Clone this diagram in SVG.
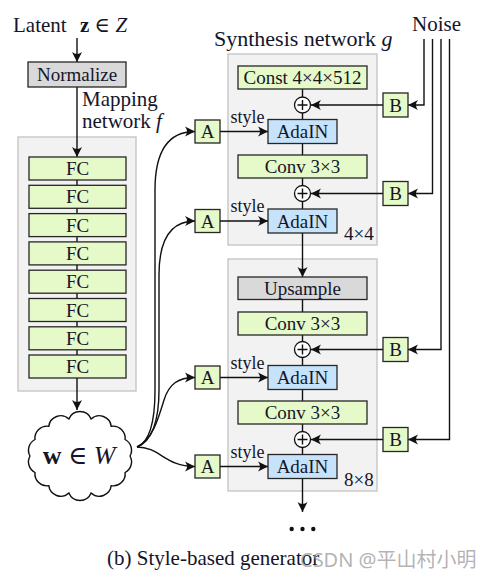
<svg xmlns="http://www.w3.org/2000/svg" width="492" height="579" viewBox="0 0 492 579" font-family="'Liberation Serif', 'DejaVu Serif', serif">
<style>
text{font-family:"Liberation Serif","DejaVu Serif",serif;fill:#15152a}
.big{font-size:21px}
.lbl{font-size:19px;text-anchor:middle}
.sty{font-size:18px}
.cont{fill:#f2f2f2;stroke:#c2c2c2;stroke-width:1.3}
.g{fill:#e6f9c8;stroke:#262626;stroke-width:1.3}
.b{fill:#c7e3fb;stroke:#262626;stroke-width:1.3}
.gr{fill:#d9d9d9;stroke:#262626;stroke-width:1.3}
.ln{fill:none;stroke:#111;stroke-width:1.4}
.arr{fill:none;stroke:#111;stroke-width:1.4;marker-end:url(#ah)}
.plus{fill:#fff;stroke:#111;stroke-width:1.3}
.wm{font-family:"Noto Sans","Noto Sans CJK SC",sans-serif;fill:#9a9a9a;fill-opacity:0.75;font-size:20px}
</style>
<defs>
<marker id="ah" viewBox="-11 -6 12 12" refX="0" refY="0" markerWidth="12" markerHeight="12" markerUnits="userSpaceOnUse" orient="auto">
<path d="M0,0 L-10,-5 Q-6,0 -10,5 Z" fill="#111"/>
</marker>
</defs>

<rect id="mapping-container" class="cont" x="18" y="137" width="118" height="254"/>
<rect id="synth-4x4" class="cont" x="228" y="54" width="149" height="191"/>
<rect id="synth-8x8" class="cont" x="228" y="259" width="149" height="232"/>

<g id="connectors">
<path class="arr" d="M77,38 L77,62"/>
<path class="arr" d="M77,87 L77,157"/>
<path class="ln" d="M77,179 L77,355"/>
<path class="arr" d="M77,378 L77,410"/>
<path class="ln" d="M302.5,89 L302.5,233"/>
<path class="arr" d="M302.5,233 L302.5,277"/>
<path class="ln" d="M302.5,299 L302.5,479"/>
<path class="arr" d="M302.5,479 L302.5,512"/>
<path class="arr" d="M383,105 L311,105"/>
<path class="arr" d="M383,193.5 L311,193.5"/>
<path class="arr" d="M383,349.5 L311,349.5"/>
<path class="arr" d="M383,439.5 L311,439.5"/>
<path class="arr" d="M424,39 L424,105 L408,105"/>
<path class="arr" d="M432.5,39 L432.5,193.5 L408,193.5"/>
<path class="arr" d="M441,39 L441,349.5 L408,349.5"/>
<path class="arr" d="M449.5,39 L449.5,439.5 L408,439.5"/>
<path class="arr" d="M220,131.5 L268,131.5"/>
<path class="arr" d="M220,221 L268,221"/>
<path class="arr" d="M220,377.5 L268,377.5"/>
<path class="arr" d="M220,466.5 L268,466.5"/>
<path class="arr" d="M137,447 C150,442 155,420 155,390 L155,190 Q155,131.5 195,131.5"/>
<path class="arr" d="M137,447 C152,442 159,420 159,390 L159,275 Q159,221 195,221"/>
<path class="arr" d="M137,447 C152,440 158,420 164,400 C169,384 178,377.5 195,377.5"/>
<path class="arr" d="M137,447 C160,447 165,466.5 195,466.5"/>
</g>

<text class="big" x="13" y="32">Latent</text>
<text class="big" x="80" y="32"><tspan font-weight="bold">z</tspan> ∈ <tspan font-style="italic">Z</tspan></text>

<g id="normalize"><rect class="gr" x="28" y="62" width="98" height="25"/><text class="lbl" x="77" y="81">Normalize</text></g>
<text class="big" x="82" y="106">Mapping</text>
<text class="big" x="82" y="128">network <tspan font-style="italic">f</tspan></text>

<g id="fc1"><rect class="g" x="29" y="157" width="97" height="23"/><text class="lbl" x="77.5" y="175">FC</text></g>
<g id="fc2"><rect class="g" x="29" y="185.3" width="97" height="23"/><text class="lbl" x="77.5" y="203.3">FC</text></g>
<g id="fc3"><rect class="g" x="29" y="213.6" width="97" height="23"/><text class="lbl" x="77.5" y="231.6">FC</text></g>
<g id="fc4"><rect class="g" x="29" y="241.9" width="97" height="23"/><text class="lbl" x="77.5" y="259.9">FC</text></g>
<g id="fc5"><rect class="g" x="29" y="270.2" width="97" height="23"/><text class="lbl" x="77.5" y="288.2">FC</text></g>
<g id="fc6"><rect class="g" x="29" y="298.5" width="97" height="23"/><text class="lbl" x="77.5" y="316.5">FC</text></g>
<g id="fc7"><rect class="g" x="29" y="326.8" width="97" height="23"/><text class="lbl" x="77.5" y="344.8">FC</text></g>
<g id="fc8"><rect class="g" x="29" y="355" width="97" height="23"/><text class="lbl" x="77.5" y="373">FC</text></g>

<g id="w-cloud">
<path fill="#fff" stroke="#111" stroke-width="1.4" d="M130,456 A12,12 0 0 1 125.1,472.5 A12,12 0 0 1 111.2,485.7 A12,12 0 0 1 91.1,493 A12,12 0 0 1 68.9,493 A12,12 0 0 1 48.8,485.7 A12,12 0 0 1 35,472.5 A12,12 0 0 1 30,456 A12,12 0 0 1 35,439.5 A12,12 0 0 1 48.8,426.3 A12,12 0 0 1 68.9,419 A12,12 0 0 1 91.1,419 A12,12 0 0 1 111.2,426.3 A12,12 0 0 1 125.1,439.5 A12,12 0 0 1 130,456 Z"/>
<text x="79" y="464" font-size="26" text-anchor="middle"><tspan font-weight="bold">w</tspan> ∈ <tspan font-style="italic">W</tspan></text>
</g>

<text x="214" y="46" font-size="22">Synthesis network <tspan font-style="italic">g</tspan></text>
<text class="big" x="412" y="31">Noise</text>

<g id="const"><rect class="g" x="238" y="66" width="129" height="23"/><text class="lbl" x="302.5" y="84">Const 4×4×512</text></g>
<g id="plus1"><circle class="plus" cx="302.5" cy="105" r="8"/><path class="ln" d="M297.5,105 H307.5 M302.5,100 V110" stroke-width="1.1"/></g>
<g id="adain1"><rect class="b" x="268" y="119.5" width="69" height="24"/><text class="lbl" x="302.5" y="138">AdaIN</text></g>
<g id="conv1"><rect class="g" x="238" y="155" width="129" height="23"/><text class="lbl" x="302.5" y="173">Conv 3×3</text></g>
<g id="plus2"><circle class="plus" cx="302.5" cy="193.5" r="8"/><path class="ln" d="M297.5,193.5 H307.5 M302.5,188.5 V198.5" stroke-width="1.1"/></g>
<g id="adain2"><rect class="b" x="268" y="209" width="69" height="24"/><text class="lbl" x="302.5" y="227.5">AdaIN</text></g>
<text x="344" y="240" font-size="19">4×4</text>

<g id="upsample"><rect class="gr" x="238" y="277" width="129" height="22.5"/><text class="lbl" x="302.5" y="295">Upsample</text></g>
<g id="conv2"><rect class="g" x="238" y="312" width="129" height="23"/><text class="lbl" x="302.5" y="330">Conv 3×3</text></g>
<g id="plus3"><circle class="plus" cx="302.5" cy="349.5" r="8"/><path class="ln" d="M297.5,349.5 H307.5 M302.5,344.5 V354.5" stroke-width="1.1"/></g>
<g id="adain3"><rect class="b" x="268" y="365.5" width="69" height="24"/><text class="lbl" x="302.5" y="384">AdaIN</text></g>
<g id="conv3"><rect class="g" x="238" y="401" width="129" height="23"/><text class="lbl" x="302.5" y="419">Conv 3×3</text></g>
<g id="plus4"><circle class="plus" cx="302.5" cy="439.5" r="8"/><path class="ln" d="M297.5,439.5 H307.5 M302.5,434.5 V444.5" stroke-width="1.1"/></g>
<g id="adain4"><rect class="b" x="268" y="454.5" width="69" height="24"/><text class="lbl" x="302.5" y="473">AdaIN</text></g>
<text x="344" y="486" font-size="19">8×8</text>

<g id="dots" fill="#111"><circle cx="291.7" cy="529" r="2.2"/><circle cx="302.5" cy="529" r="2.2"/><circle cx="313.3" cy="529" r="2.2"/></g>

<g id="A1"><rect class="g" x="195" y="120" width="25" height="23"/><text class="lbl" x="207.5" y="138">A</text></g>
<g id="A2"><rect class="g" x="195" y="209.5" width="25" height="23"/><text class="lbl" x="207.5" y="227.5">A</text></g>
<g id="A3"><rect class="g" x="195" y="366" width="25" height="23"/><text class="lbl" x="207.5" y="384">A</text></g>
<g id="A4"><rect class="g" x="195" y="455" width="25" height="23"/><text class="lbl" x="207.5" y="473">A</text></g>
<text class="sty" x="230.5" y="122.5">style</text>
<text class="sty" x="230.5" y="212">style</text>
<text class="sty" x="230.5" y="368.5">style</text>
<text class="sty" x="230.5" y="457.5">style</text>

<g id="B1"><rect class="g" x="383" y="93" width="25" height="24"/><text class="lbl" x="395.5" y="111.5">B</text></g>
<g id="B2"><rect class="g" x="383" y="181.5" width="25" height="24"/><text class="lbl" x="395.5" y="200">B</text></g>
<g id="B3"><rect class="g" x="383" y="337.5" width="25" height="24"/><text class="lbl" x="395.5" y="356">B</text></g>
<g id="B4"><rect class="g" x="383" y="427.5" width="25" height="24"/><text class="lbl" x="395.5" y="446">B</text></g>

<text class="big" x="107" y="565">(b) Style-based generator</text>
<text class="wm" x="300" y="567">CSDN @平山村小明</text>
</svg>
